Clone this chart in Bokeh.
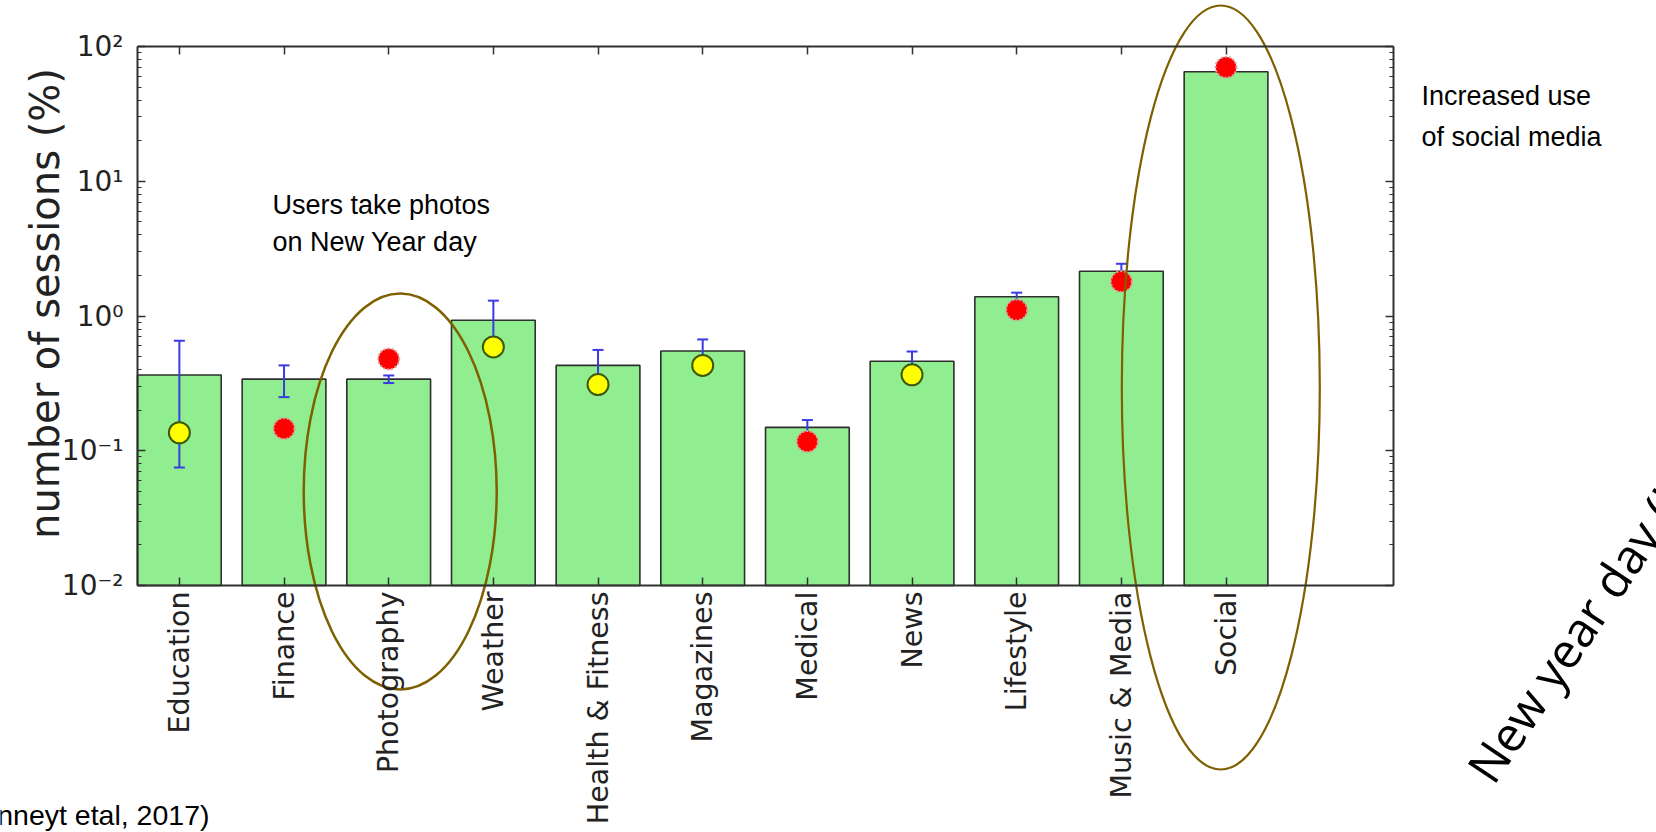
import math

from bokeh.core.properties import value
from bokeh.embed import file_html
from bokeh.models import (ColumnDataSource, CustomJSTickFormatter, CustomLabelingPolicy,
                          FixedTicker, LinearAxis, LogAxis, LogScale, Range1d)
from bokeh.plotting import figure
from bokeh.resources import INLINE

# ---------------------------------------------------------------- data
categories = ["Education", "Finance", "Photography", "Weather", "Health & Fitness",
              "Magazines", "Medical", "News", "Lifestyle", "Music & Media", "Social"]
mean_sessions = [0.365, 0.34, 0.34, 0.93, 0.43, 0.55, 0.149, 0.462, 1.39, 2.15, 65.0]
session_err = [0.29, 0.09, 0.022, 0.37, 0.13, 0.12, 0.02, 0.083, 0.10, 0.29, 4.0]
new_year_sessions = [0.136, 0.146, 0.48, 0.59, 0.31, 0.43, 0.117, 0.366, 1.11, 1.80, 70.0]
new_year_highlight = [False, True, True, False, False, False, True, False, True, True, True]
y_decades = [1e-2, 1e-1, 1e0, 1e1, 1e2]

# ---------------------------------------------------------------- layout
W, H = 1656, 832
FRAME_L, FRAME_R, FRAME_T, FRAME_B = 137, 1393, 46, 585
X_LO, X_HI = -0.4, 11.6
Y_LO, Y_HI = y_decades[0], y_decades[-1]
ux = (FRAME_R - FRAME_L) / (X_HI - X_LO)
uy = (FRAME_B - FRAME_T) / (math.log10(Y_HI) - math.log10(Y_LO))


def px_x(px):
    return X_LO + (px - FRAME_L) / ux


def px_y(py):
    return 10 ** (math.log10(Y_HI) - (py - FRAME_T) / uy)


x_range = Range1d(px_x(0), px_x(W))
y_range = Range1d(px_y(H), px_y(0))

p = figure(width=W, height=H, x_range=x_range, y_range=y_range, y_axis_type="log",
           x_axis_location=None, y_axis_location=None, toolbar_location=None,
           output_backend="svg", min_border=0, title=None, outline_line_color=None,
           background_fill_color="white", border_fill_color="white")
p.y_scale = LogScale()
p.grid.visible = False

AXIS_COLOR = "#303030"
TICK_FONT = "DejaVu Sans"
no_labels = CustomLabelingPolicy(
    code="for (const i of Array.from(indices)) indices.unset(i); return indices")

cat_ticker = FixedTicker(ticks=list(range(len(categories))))
minor_log = [m * d for d in y_decades[:-1] for m in range(2, 10)]
log_ticker = FixedTicker(ticks=y_decades, minor_ticks=minor_log)
sup_formatter = CustomJSTickFormatter(code="""
    const sup = {"-": "\u207b", "0": "\u2070", "1": "\u00b9", "2": "\u00b2", "3": "\u00b3",
                 "4": "\u2074", "5": "\u2075", "6": "\u2076", "7": "\u2077", "8": "\u2078", "9": "\u2079"};
    const e = Math.round(Math.log10(tick));
    return "10" + String(e).split("").map((c) => sup[c]).join("");
""")


def style_axis(ax):
    ax.axis_line_color = AXIS_COLOR
    ax.axis_line_width = 2
    ax.major_tick_line_color = AXIS_COLOR
    ax.minor_tick_line_color = AXIS_COLOR
    ax.major_tick_line_width = 1.5
    ax.minor_tick_line_width = 1.2
    ax.major_tick_in = 8
    ax.major_tick_out = 0
    ax.minor_tick_in = 4
    ax.minor_tick_out = 0
    ax.major_label_text_font = TICK_FONT
    ax.major_label_text_color = "#222222"


bottom_axis = LinearAxis(ticker=cat_ticker, fixed_location=Y_LO, bounds=(X_LO, X_HI),
                         major_label_overrides={i: c for i, c in enumerate(categories)},
                         major_label_orientation=math.pi / 2, major_label_standoff=6,
                         major_label_text_font_size="28.5px")
top_axis = LinearAxis(ticker=cat_ticker, fixed_location=Y_HI, bounds=(X_LO, X_HI),
                      major_label_policy=no_labels)
left_axis = LogAxis(ticker=log_ticker, fixed_location=X_LO, bounds=(Y_LO, Y_HI),
                    formatter=sup_formatter, major_label_standoff=14,
                    major_label_text_font_size="28px")
right_axis = LogAxis(ticker=log_ticker, fixed_location=X_HI, bounds=(Y_LO, Y_HI),
                     major_label_policy=no_labels)
for ax in (bottom_axis, top_axis, left_axis, right_axis):
    style_axis(ax)
p.add_layout(bottom_axis, "below")
p.add_layout(top_axis, "above")
p.add_layout(left_axis, "left")
p.add_layout(right_axis, "right")

# ---------------------------------------------------------------- bars + error bars
xs = list(range(len(categories)))
bars = ColumnDataSource(dict(
    x=xs, top=mean_sessions,
    lo=[m - e for m, e in zip(mean_sessions, session_err)],
    hi=[m + e for m, e in zip(mean_sessions, session_err)],
))
p.vbar(x="x", top="top", bottom=Y_LO, width=0.8, source=bars,
       fill_color="#90ee90", line_color="#2e2e2e", line_width=1.6)

ERR_COLOR = "#3b3be0"
p.segment(x0="x", y0="lo", x1="x", y1="hi", source=bars, line_color=ERR_COLOR, line_width=2)
p.scatter(x="x", y="hi", source=bars, marker="dash", size=11, line_color=ERR_COLOR, line_width=2)
p.scatter(x="x", y="lo", source=bars, marker="dash", size=11, line_color=ERR_COLOR, line_width=2)

# ---------------------------------------------------------------- New Year day markers
plain = ColumnDataSource(dict(
    x=[x for x, h in zip(xs, new_year_highlight) if not h],
    y=[v for v, h in zip(new_year_sessions, new_year_highlight) if not h]))
peak = ColumnDataSource(dict(
    x=[x for x, h in zip(xs, new_year_highlight) if h],
    y=[v for v, h in zip(new_year_sessions, new_year_highlight) if h]))
p.scatter(x="x", y="y", source=plain, marker="circle", size=21,
          fill_color="#ffff00", line_color="#3d5a0a", line_width=2)
p.scatter(x="x", y="y", source=peak, marker="circle", size=21,
          fill_color="#ff0000", line_color="#d9a0a0", line_width=2, line_dash="2 2")

# ---------------------------------------------------------------- highlight ellipses
ELL_COLOR = "#7f6000"
p.ellipse(x=categories.index("Photography") + 0.11, y=px_y(491), width=193, height=396,
          width_units="screen", height_units="screen",
          fill_color=None, line_color=ELL_COLOR, line_width=2.5)
p.ellipse(x=categories.index("Social") - 0.05, y=px_y(387), width=198, height=764,
          width_units="screen", height_units="screen",
          fill_color=None, line_color=ELL_COLOR, line_width=2.2)

# ---------------------------------------------------------------- texts
NOTE_FONT = value("Liberation Sans")
p.text(x=[px_x(44)], y=[px_y(303)], text=["number of sessions (%)"], angle=math.pi / 2,
       text_font=value(TICK_FONT), text_font_size="40px", text_color="#222222",
       text_align="center", text_baseline="middle")

p.text(x=[px_x(272), px_x(272)], y=[px_y(204), px_y(241)],
       text=["Users take photos", "on New Year day"],
       text_font=NOTE_FONT, text_font_size="27px", text_color="black",
       text_align="left", text_baseline="alphabetic")

p.text(x=[px_x(1421), px_x(1421)], y=[px_y(95), px_y(136)],
       text=["Increased use", "of social media"],
       text_font=NOTE_FONT, text_font_size="27px", text_color="black",
       text_align="left", text_baseline="alphabetic")

p.text(x=[px_x(209)], y=[px_y(814)], text=["(Van Canneyt etal, 2017)"],
       text_font=NOTE_FONT, text_font_size="28.5px", text_color="black",
       text_align="right", text_baseline="alphabetic")

p.text(x=[px_x(1478)], y=[px_y(776)], text=["New year day (UK)"], angle=math.radians(56),
       text_font=value("Open Sans"), text_font_size="48px", text_color="black",
       text_align="left", text_baseline="alphabetic")

open("out.html", "w").write(file_html(p, INLINE))
